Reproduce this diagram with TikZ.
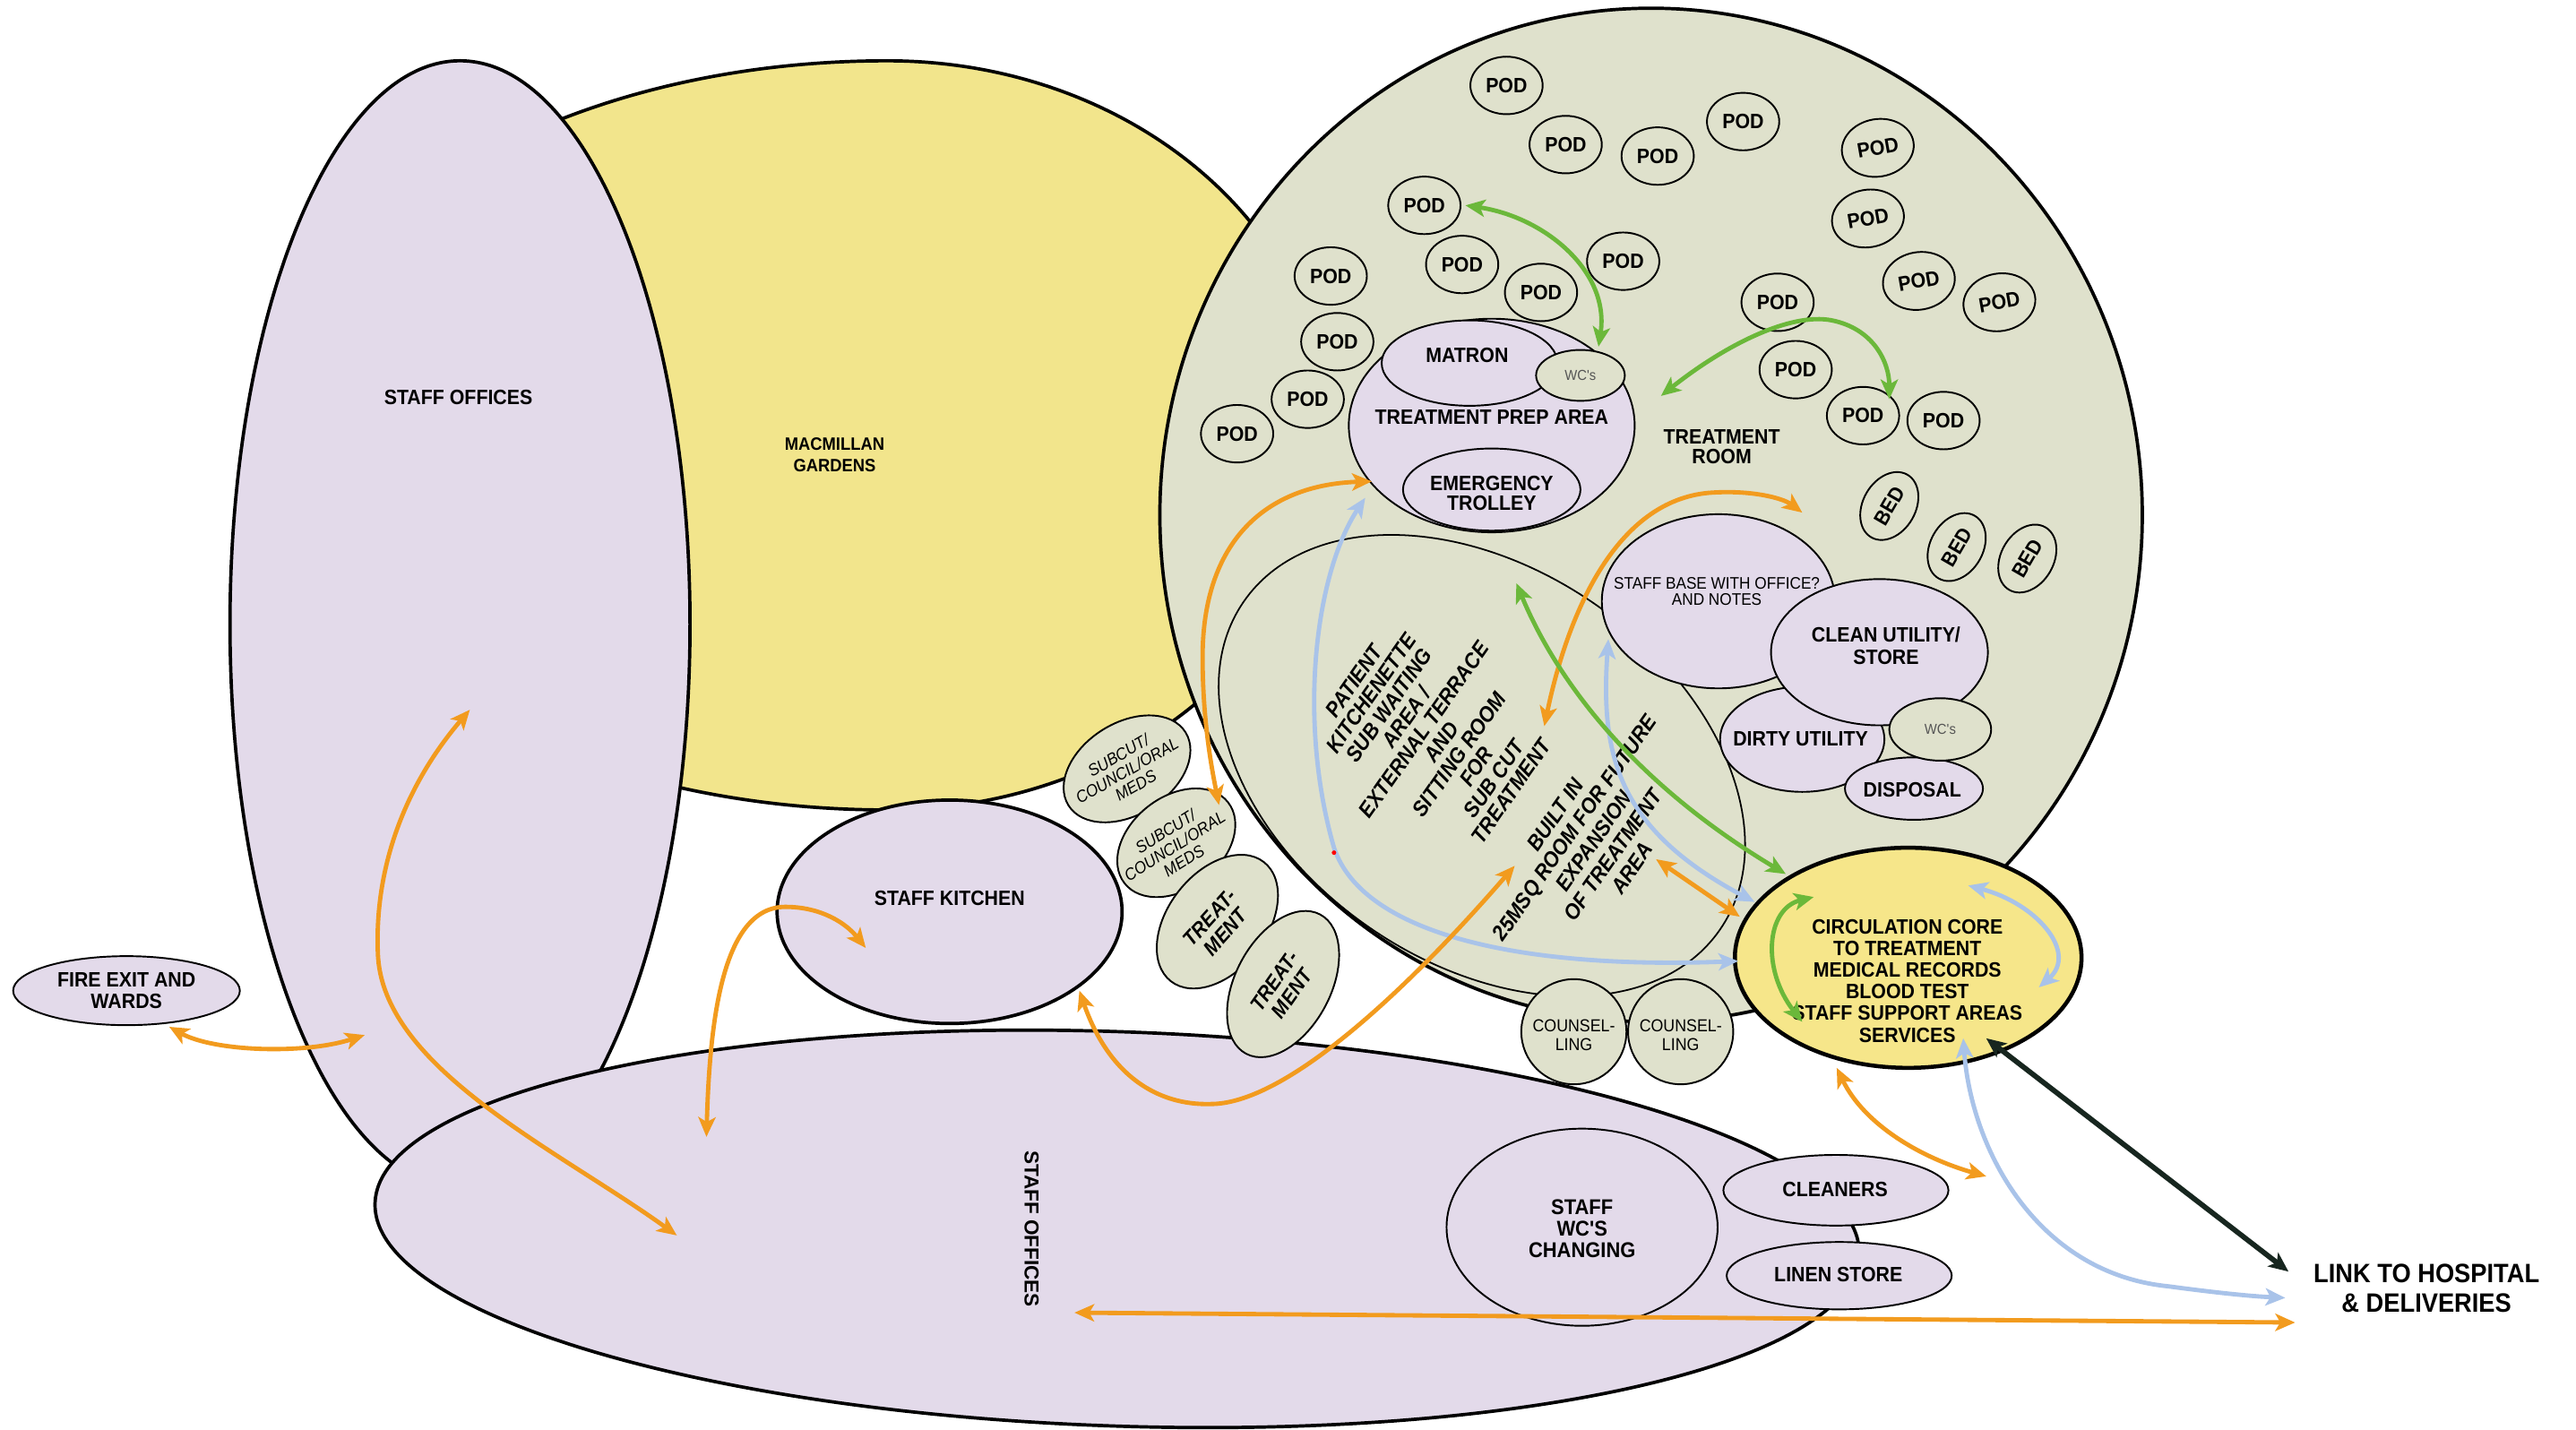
\documentclass[tikz,border=0pt]{standalone}
\usepackage{fontspec}
\setmainfont{Liberation Sans}
\newfontfamily\condf{Liberation Sans}[FakeStretch=0.92]
\usetikzlibrary{arrows.meta,shapes.geometric}
\definecolor{lav}{HTML}{E3DAEA}
\definecolor{yel}{HTML}{F2E58C}
\definecolor{coreyel}{HTML}{F6E68A}
\definecolor{tgr}{HTML}{DFE1CC}
\definecolor{orng}{HTML}{F29B1E}
\definecolor{grn}{HTML}{6BB83A}
\definecolor{lblue}{HTML}{A9C3E9}
\definecolor{dk}{HTML}{17261F}
\definecolor{wcgray}{HTML}{555555}
\tikzset{
  bub/.style={ellipse, inner sep=0pt, outer sep=0pt, draw=black},
  bubthin/.style={bub, line width=0.6pt},
  bubthick/.style={bub, line width=1.15pt},
  tb/.style={font=\condf\bfseries\fontsize{7.2}{7.5}\selectfont, align=center, inner sep=0pt},
  tr/.style={font=\condf\fontsize{6}{6.5}\selectfont, align=center, inner sep=0pt},
  tbi/.style={font=\condf\bfseries\itshape\fontsize{7.5}{7.4}\selectfont, align=center, inner sep=0pt},
  pod/.style={bubthin, fill=tgr, minimum width=8.8mm, minimum height=7mm, tb},
  bedbub/.style={bubthin, fill=tgr, minimum width=8.8mm, minimum height=6.4mm, rotate=60, tb},
  oarr/.style={draw=orng, line width=1.5pt, <->},
  garr/.style={draw=grn, line width=1.5pt, <->},
  barr/.style={draw=lblue, line width=1.5pt, <->},
  darr/.style={draw=dk, line width=1.8pt, <->}
}
\begin{document}
\begin{tikzpicture}[x=0.2mm, y=-0.2mm, >={Stealth[length=2.4mm,width=2.1mm,inset=0.6mm]}]
\path[fill=white, use as bounding box] (0,0) rectangle (1568,870.4);

% ---------- large areas ----------
\coordinate (gardentop) at (540,37);
\draw[line width=1.15pt, fill=yel] (gardentop)
  arc[start angle=-90, end angle=90, x radius=269, y radius=228]
  arc[start angle=90, end angle=270, x radius=370, y radius=228] -- cycle;
\node[bubthick, fill=lav, minimum width=56mm, minimum height=137.2mm] (offl) at (280,380) {};
\node[bubthick, fill=tgr, minimum width=119.6mm, minimum height=123.4mm] (treat) at (1005,313.5) {};
\node[bubthin, line width=0.55pt, minimum width=70.4mm, minimum height=48mm, rotate=-34.5] (kitchenette) at (902,466) {};
\node[bubthick, fill=lav, minimum width=180.8mm, minimum height=48mm, rotate=-2] (offb) at (680,748) {};
\node[bubthick, fill=lav, minimum width=42mm, minimum height=27.2mm] (kitchen) at (578,555) {};
\node[bubthin, fill=lav, minimum width=27.6mm, minimum height=8.4mm] (fire) at (77,603) {};

% ---------- treatment prep ----------
\node[bubthin, fill=lav, minimum width=34.8mm, minimum height=26mm] (prep) at (908,259) {};
\node[bubthin, fill=lav, minimum width=21.4mm, minimum height=10.4mm] (matron) at (894.5,221) {};
\node[bubthin, fill=tgr, minimum width=10.8mm, minimum height=6.2mm, font=\condf\fontsize{5}{5}\selectfont, text=wcgray] (wc1) at (962,228.5) {WC's};
\node[bubthin, fill=lav, minimum width=21.6mm, minimum height=10mm] (trolley) at (908,298) {};

% ---------- staff base cluster ----------
\node[bubthin, fill=lav, minimum width=28.4mm, minimum height=21.2mm] (base) at (1046,366) {};
\node[bubthin, fill=lav, minimum width=20mm, minimum height=12.8mm] (dirty) at (1097,450) {};
\node[bubthin, fill=lav, minimum width=16.8mm, minimum height=7.6mm] (disposal) at (1165,480) {};
\node[bubthin, fill=lav, minimum width=26.4mm, minimum height=17.8mm] (clean) at (1144,397) {};
\node[bubthin, fill=tgr, minimum width=12.4mm, minimum height=7.6mm, font=\condf\fontsize{5}{5}\selectfont, text=wcgray] (wc2) at (1181,444) {WC's};

% ---------- pods & beds ----------
\foreach \i/\x/\y in {1/917/52, 2/953/88, 3/1009/95, 4/1061/74, 5/867/125, 6/810/168, 7/890/161, 8/938/178, 9/988/159, 10/814/208, 11/796/243, 12/753/264, 13/1082/184, 14/1093/225, 15/1134/253, 16/1183/256}
  \node[pod] (pod\i) at (\x,\y) {POD};
\foreach \i/\x/\y in {17/1143/90, 18/1137/133, 19/1168/171, 20/1217/184}
  \node[pod, rotate=10] (pod\i) at (\x,\y) {POD};
\node[bedbub] (bed1) at (1150,308) {BED};
\node[bedbub] (bed2) at (1191,333) {BED};
\node[bedbub] (bed3) at (1234,340) {BED};

% ---------- small rooms ----------
\node[bubthin, fill=tgr, minimum width=16.8mm, minimum height=11.2mm, rotate=32] (meds1) at (686,468) {};
\node[bubthin, fill=tgr, minimum width=16mm, minimum height=11.2mm, rotate=38] (meds2) at (716,513) {};
\node[bubthin, fill=tgr, minimum width=18.4mm, minimum height=12mm, rotate=52] (tm1) at (741,561) {};
\node[bubthin, fill=tgr, minimum width=19.2mm, minimum height=11.6mm, rotate=62] (tm2) at (781,599) {};
\node[bubthin, fill=tgr, minimum width=12.8mm, minimum height=12.8mm] (couns1) at (958,628) {};
\node[bubthin, fill=tgr, minimum width=12.8mm, minimum height=12.8mm] (couns2) at (1023,628) {};
\node[bubthin, fill=lav, minimum width=33mm, minimum height=24mm] (wcs) at (963,747) {};
\node[bubthin, fill=lav, minimum width=27.4mm, minimum height=8.6mm] (cleaners) at (1117.5,724.5) {};
\node[bubthin, fill=lav, minimum width=27.4mm, minimum height=8.2mm] (linen) at (1119.5,776.5) {};
\node[bub, line width=1.4pt, fill=coreyel, minimum width=42.2mm, minimum height=26.8mm] (core) at (1161.5,583) {};

% ---------- labels ----------
\node[tb] (loffl) at (279,242) {STAFF OFFICES};
\node[tb, font=\condf\bfseries\fontsize{6.2}{7.4}\selectfont] (lgarden) at (508,277) {MACMILLAN\\GARDENS};
\node[tb] (lfire) at (77,603) {FIRE EXIT AND\\WARDS};
\node[tb] (lkitchen) at (578,547) {STAFF KITCHEN};
\node[tb] (lmatron) at (893,216) {MATRON};
\node[tb] (lprep) at (908,254) {TREATMENT PREP AREA};
\node[tb, font=\condf\bfseries\fontsize{7.2}{6.8}\selectfont] (ltrolley) at (908,300) {EMERGENCY\\TROLLEY};
\node[tb, font=\condf\bfseries\fontsize{7.2}{6.8}\selectfont] (lroom) at (1048,272) {TREATMENT\\ROOM};
\node[tr, font=\condf\fontsize{5.8}{5.4}\selectfont] (lbase) at (1045,360) {STAFF BASE WITH OFFICE?\\AND NOTES};
\node[tb, font=\condf\bfseries\fontsize{7.2}{8}\selectfont] (lclean) at (1148,393) {CLEAN UTILITY/\\STORE};
\node[tb] (ldirty) at (1096,450) {DIRTY UTILITY};
\node[tb] (ldisposal) at (1164,481) {DISPOSAL};
\node[tb] (lcore) at (1161,597) {CIRCULATION CORE\\TO TREATMENT\\MEDICAL RECORDS\\BLOOD TEST\\STAFF SUPPORT AREAS\\SERVICES};
\node[tr, font=\condf\fontsize{6}{6.5}\selectfont] (lcouns1) at (958,630) {COUNSEL-\\LING};
\node[tr, font=\condf\fontsize{6}{6.5}\selectfont] (lcouns2) at (1023,630) {COUNSEL-\\LING};
\node[tr, font=\condf\itshape\fontsize{5.8}{6}\selectfont, rotate=30] (lmeds1) at (686,469) {SUBCUT/\\COUNCIL/ORAL\\MEDS};
\node[tr, font=\condf\itshape\fontsize{5.8}{6}\selectfont, rotate=32] (lmeds2) at (715,515) {SUBCUT/\\COUNCIL/ORAL\\MEDS};
\node[tbi, font=\condf\bfseries\itshape\fontsize{7.2}{7.4}\selectfont, rotate=48] (ltm1) at (741,563) {TREAT-\\MENT};
\node[tbi, font=\condf\bfseries\itshape\fontsize{7.2}{7.4}\selectfont, rotate=55] (ltm2) at (781,601) {TREAT-\\MENT};
\node[tbi, rotate=55] (lkitchenette) at (872,448) {PATIENT\\KITCHENETTE\\SUB WAITING\\AREA /\\EXTERNAL TERRACE\\AND\\SITTING ROOM\\FOR\\SUB CUT\\TREATMENT};
\node[tbi, font=\condf\bfseries\itshape\fontsize{7.5}{8.1}\selectfont, rotate=55] (lbuilt) at (970,512) {BUILT IN\\25MSQ ROOM FOR FUTURE\\EXPANSION\\OF TREATMENT\\AREA};
\node[tb, font=\condf\bfseries\fontsize{7.4}{7.4}\selectfont] (lwcs) at (963,748) {STAFF\\WC'S\\CHANGING};
\node[tb] (lcleaners) at (1117,724) {CLEANERS};
\node[tb] (llinen) at (1119,776) {LINEN STORE};
\node[font=\bfseries\fontsize{7}{7}\selectfont, inner sep=0pt, rotate=-90] (loffb) at (628,748) {STAFF OFFICES};
\node[tb, font=\condf\bfseries\fontsize{9.2}{10.2}\selectfont] (llink) at (1477,784) {LINK TO HOSPITAL\\\& DELIVERIES};

% ---------- arrow end points ----------
\coordinate (fa1) at (103,625);  \coordinate (fa2) at (222,630);
\coordinate (ob1) at (286,432);  \coordinate (ob2) at (412,752);
\coordinate (oc1) at (430,692);  \coordinate (oc2) at (527,577);
\coordinate (od1) at (657,603);  \coordinate (od2) at (922,527);
\coordinate (oe1) at (835,293);  \coordinate (oe2) at (742,490);
\coordinate (of1) at (940,442);  \coordinate (of2) at (1097,312);
\coordinate (og1) at (1008,523); \coordinate (og2) at (1059,558);
\coordinate (oh1) at (1118,650); \coordinate (oh2) at (1209,716);
\coordinate (oi1) at (654,799);  \coordinate (oi2) at (1397,805);
\coordinate (gj1) at (892,125);  \coordinate (gj2) at (973,211);
\coordinate (gk1) at (1011,241); \coordinate (gk2) at (1150,243);
\coordinate (gl1) at (923,355);  \coordinate (gl2) at (1087,532);
\coordinate (gm1) at (1104,546); \coordinate (gm2) at (1097,622);
\coordinate (bn1) at (831,303);  \coordinate (bn2) at (1058,585);
\coordinate (bo1) at (979,389);  \coordinate (bo2) at (1068,549);
\coordinate (bp1) at (1198,539); \coordinate (bp2) at (1241,601);
\coordinate (bq1) at (1195,632); \coordinate (bq2) at (1391,790);
\coordinate (dr1) at (1209,632); \coordinate (dr2) at (1393,774);

% ---------- arrows ----------
\draw[barr] (bn1) .. controls (800,350) and (790,440) .. (812,516) .. controls (830,570) and (930,590) .. (bn2);
\draw[barr] (bo1) .. controls (974,460) and (985,505) .. (bo2);
\draw[barr] (bp1) .. controls (1240,550) and (1265,580) .. (bp2);
\draw[barr] (bq1) .. controls (1200,700) and (1240,775) .. (1320,783) .. controls (1350,787) and (1370,789) .. (bq2);
\node[circle, fill=red, inner sep=0pt, minimum size=0.55mm] (reddot) at (812,519) {};

\draw[oarr] (fa1) .. controls (130,640) and (185,642) .. (fa2);
\draw[oarr] (ob1) .. controls (245,480) and (228,530) .. (230,580) .. controls (232,650) and (340,700) .. (ob2);
\draw[oarr] (oc1) .. controls (432,620) and (440,552) .. (478,552) .. controls (500,552) and (515,562) .. (oc2);
\draw[oarr] (od1) .. controls (675,655) and (705,673) .. (737,672) .. controls (780,672) and (850,610) .. (od2);
\draw[oarr] (oe1) .. controls (770,295) and (732,330) .. (732,400) .. controls (732,440) and (738,470) .. (oe2);
\draw[oarr] (of1) .. controls (955,370) and (985,305) .. (1040,300) .. controls (1065,298) and (1085,303) .. (of2);
\draw[oarr] (og1) -- (og2);
\draw[oarr] (oh1) .. controls (1135,685) and (1170,705) .. (oh2);
\draw[oarr] (oi1) -- (oi2);

\draw[garr] (gj1) .. controls (940,132) and (980,165) .. (gj2);
\draw[garr] (gk1) .. controls (1050,210) and (1090,190) .. (1115,195) .. controls (1140,200) and (1150,220) .. (gk2);
\draw[garr] (gl1) .. controls (950,420) and (1000,480) .. (gl2);
\draw[garr] (gm1) .. controls (1075,553) and (1072,590) .. (gm2);

\draw[darr] (dr1) -- (dr2);
\end{tikzpicture}
\end{document}
